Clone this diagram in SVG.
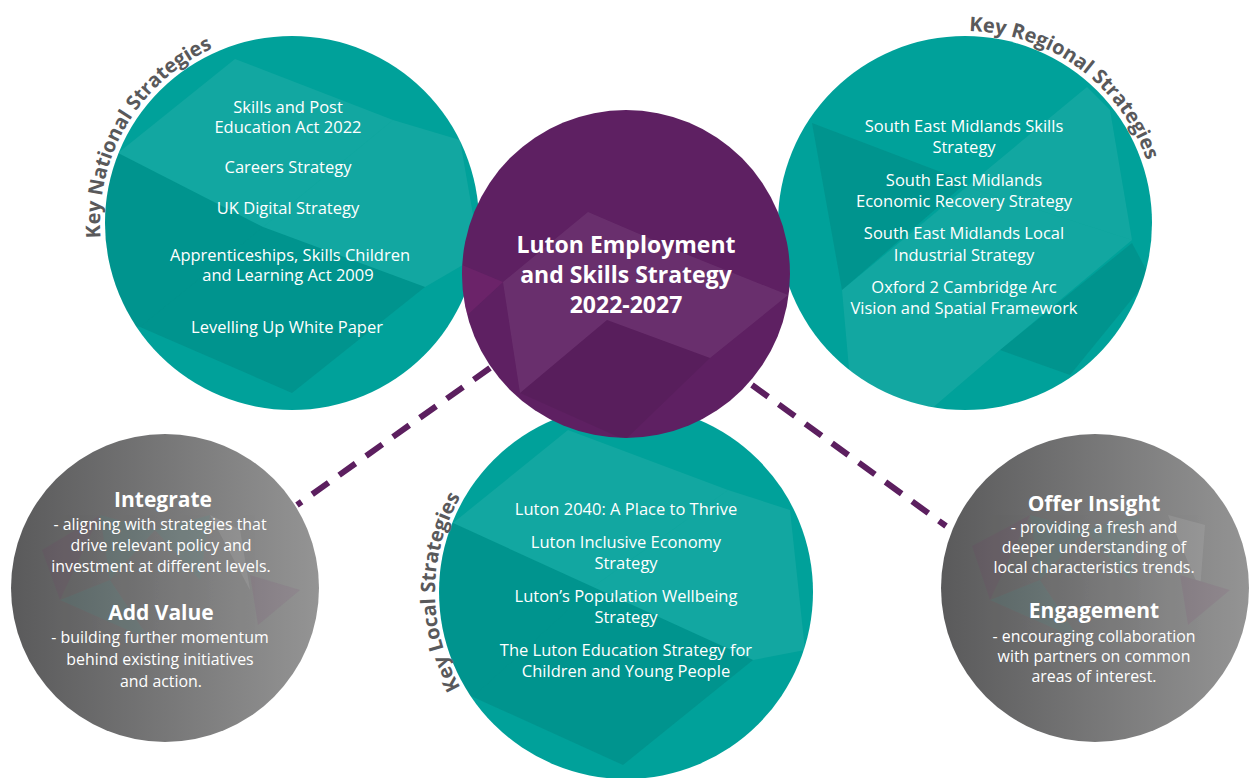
<svg xmlns="http://www.w3.org/2000/svg" width="1249" height="778" viewBox="0 0 1249 778">
<defs>
<style>
.teal{fill:#00a19a}
.purple{fill:#5e2062}
.lt{fill:#ffffff;opacity:0.07}
.dk{fill:#00474a;opacity:0.14}
.wt{font-family:"Open Sans",Lato,sans-serif;font-size:16.5px;fill:#ffffff;text-anchor:middle}
.gt{font-family:"Open Sans",Lato,sans-serif;font-size:15.9px;fill:#ffffff;text-anchor:middle}
.hd{font-family:"Open Sans",Lato,sans-serif;font-size:21px;font-weight:bold;fill:#ffffff;text-anchor:middle}
.title{font-family:"Open Sans",Lato,sans-serif;font-size:23px;font-weight:bold;fill:#ffffff;text-anchor:middle}
.arc{font-family:"Open Sans",Lato,sans-serif;font-size:20px;font-weight:bold;fill:#59595b}
.dash{stroke:#5c1f5f;stroke-width:6;stroke-dasharray:20 13;fill:none}
</style>
<linearGradient id="grey" x1="0" y1="0" x2="1" y2="0">
<stop offset="0" stop-color="#5a5a5b"/>
<stop offset="1" stop-color="#949494"/>
</linearGradient>
<clipPath id="cN"><circle cx="292" cy="223" r="187"/></clipPath>
<clipPath id="cR"><circle cx="965" cy="223" r="187"/></clipPath>
<clipPath id="cP"><circle cx="626" cy="274" r="164"/></clipPath>
<clipPath id="cL"><circle cx="626" cy="592" r="187"/></clipPath>
<clipPath id="cG1"><circle cx="165" cy="588" r="154"/></clipPath>
<clipPath id="cG2"><circle cx="1095" cy="588" r="154"/></clipPath>
<path id="arcN" d="M111.6,288.7 A192,192 0 0 1 308.7,31.7"/>
<path id="arcR" d="M899.3,42.6 A192,192 0 0 1 1157,223"/>
<path id="arcL" d="M503.2,738.3 A191,191 0 0 1 503.2,445.7"/>
</defs>

<g id="connectors">
<line class="dash" x1="490" y1="368" x2="297" y2="505"/>
<line class="dash" x1="752" y1="385" x2="946" y2="526"/>
</g>

<g id="node-national">
<circle class="teal" cx="292" cy="223" r="187"/>
<g clip-path="url(#cN)">
<polygon class="lt" points="235,59 118,153 263,227 393,120"/>
<polygon class="lt" points="393,120 460,140 480,255 425,287 263,227"/>
<polygon class="dk" points="140,327 263,227 425,287 292,393"/>
<polygon class="dk" points="100,180 118,153 263,227 140,327 100,320"/>
</g>
<text class="wt" x="288" y="113">Skills and Post</text>
<text class="wt" x="288" y="133">Education Act 2022</text>
<text class="wt" x="288" y="173">Careers Strategy</text>
<text class="wt" x="288" y="214">UK Digital Strategy</text>
<text class="wt" x="290" y="261">Apprenticeships, Skills Children</text>
<text class="wt" x="288" y="281">and Learning Act 2009</text>
<text class="wt" x="287" y="333">Levelling Up White Paper</text>
<text class="arc"><textPath href="#arcN" startOffset="44%" text-anchor="middle">Key National Strategies</textPath></text>
</g>

<g id="node-regional">
<circle class="teal" cx="965" cy="223" r="187"/>
<g clip-path="url(#cR)">
<polygon class="dk" points="812,123 967,182 842,290"/>
<polygon class="lt" points="1087,87 1110,110 1132,240 967,187 842,290"/>
<polygon class="dk" points="1000,350 1132,243 1150,277 1070,375"/>
<polygon class="lt" points="842,290 967,187 1132,240 1000,350 930,410 850,380"/>
</g>
<text class="wt" x="964" y="132">South East Midlands Skills</text>
<text class="wt" x="964" y="153">Strategy</text>
<text class="wt" x="964" y="186">South East Midlands</text>
<text class="wt" x="964" y="207">Economic Recovery Strategy</text>
<text class="wt" x="964" y="239">South East Midlands Local</text>
<text class="wt" x="964" y="261">Industrial Strategy</text>
<text class="wt" x="964" y="293">Oxford 2 Cambridge Arc</text>
<text class="wt" x="964" y="314">Vision and Spatial Framework</text>
<text class="arc"><textPath href="#arcR" startOffset="51%" text-anchor="middle">Key Regional Strategies</textPath></text>
</g>

<g id="node-local">
<circle class="teal" cx="626" cy="592" r="187"/>
<g clip-path="url(#cL)">
<polygon class="lt" points="568,430 453,523 593,587 728,490"/>
<polygon class="lt" points="728,490 790,510 805,650 753,660 593,587"/>
<polygon class="dk" points="473,697 593,587 753,660 623,765"/>
<polygon class="dk" points="440,560 453,523 593,587 473,697 440,680"/>
</g>
<text class="wt" x="626" y="515">Luton 2040: A Place to Thrive</text>
<text class="wt" x="626" y="548">Luton Inclusive Economy</text>
<text class="wt" x="626" y="569">Strategy</text>
<text class="wt" x="626" y="602">Luton’s Population Wellbeing</text>
<text class="wt" x="626" y="623">Strategy</text>
<text class="wt" x="626" y="656">The Luton Education Strategy for</text>
<text class="wt" x="626" y="677">Children and Young People</text>
<text class="arc"><textPath href="#arcL" startOffset="50%" text-anchor="middle">Key Local Strategies</textPath></text>
</g>

<g id="node-central">
<circle class="purple" cx="626" cy="274" r="164"/>
<g clip-path="url(#cP)">
<polygon fill="#ffffff" opacity="0.07" points="588,212 503,282 520,393 607,320 710,358 788,295 693,257"/>
<polygon fill="#8a2a7a" opacity="0.3" points="462,265 503,282 462,320"/>
<polygon fill="#000000" opacity="0.06" points="520,393 607,320 710,358 625,440"/>
</g>
<text class="title" x="626" y="253">Luton Employment</text>
<text class="title" x="626" y="283">and Skills Strategy</text>
<text class="title" x="626" y="313">2022-2027</text>
</g>

<g id="node-integrate">
<circle fill="url(#grey)" cx="165" cy="588" r="154"/>
<g clip-path="url(#cG1)" opacity="0.09">
<polygon fill="#7a2a6a" points="42,550 100,515 60,600"/>
<polygon fill="#2aa69a" points="100,515 155,530 110,580"/>
<polygon fill="#2aa69a" points="155,530 210,515 200,580"/>
<polygon fill="#ffffff" points="210,515 240,530 250,590"/>
<polygon fill="#7a2a6a" points="250,575 300,590 258,625"/>
<polygon fill="#2aa69a" points="60,600 110,580 150,640"/>
</g>
<text class="hd" x="163" y="507">Integrate</text>
<text class="gt" x="160" y="530">- aligning with strategies that</text>
<text class="gt" x="161" y="551">drive relevant policy and</text>
<text class="gt" x="161" y="572">investment at different levels.</text>
<text class="hd" x="161" y="620">Add Value</text>
<text class="gt" x="160" y="643">- building further momentum</text>
<text class="gt" x="160" y="665">behind existing initiatives</text>
<text class="gt" x="161" y="687">and action.</text>
</g>

<g id="node-insight">
<circle fill="url(#grey)" cx="1095" cy="588" r="154"/>
<g clip-path="url(#cG2)" opacity="0.09">
<polygon fill="#7a2a6a" points="972,546 1030,515 990,600"/>
<polygon fill="#2aa69a" points="1030,515 1085,530 1040,580"/>
<polygon fill="#2aa69a" points="1085,530 1140,515 1130,580"/>
<polygon fill="#ffffff" points="1168,515 1205,525 1200,590"/>
<polygon fill="#7a2a6a" points="1180,575 1230,590 1188,625"/>
<polygon fill="#2aa69a" points="990,600 1040,580 1080,640"/>
</g>
<text class="hd" x="1094" y="511">Offer Insight</text>
<text class="gt" x="1094" y="533">- providing a fresh and</text>
<text class="gt" x="1094" y="553">deeper understanding of</text>
<text class="gt" x="1094" y="573">local characteristics trends.</text>
<text class="hd" x="1094" y="618">Engagement</text>
<text class="gt" x="1094" y="642">- encouraging collaboration</text>
<text class="gt" x="1094" y="662">with partners on common</text>
<text class="gt" x="1094" y="682">areas of interest.</text>
</g>
</svg>
